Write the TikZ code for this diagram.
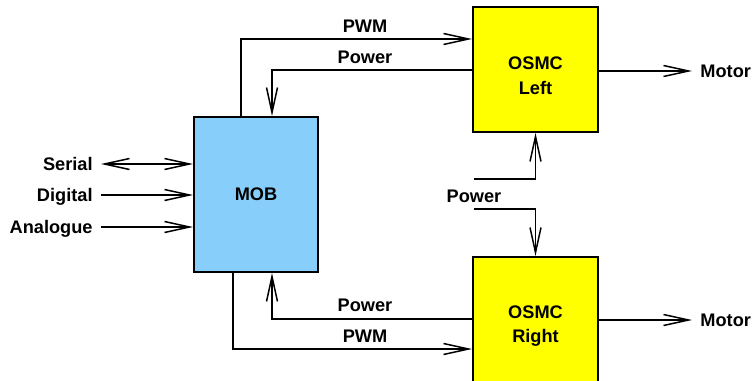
\documentclass[tikz,border=0pt]{standalone}
\usepackage{fontspec}
\setmainfont{Liberation Sans}
\usetikzlibrary{arrows.meta}

\begin{document}
\begin{tikzpicture}[x=0.5pt, y=-0.5pt,
    >={Straight Barb[length=12.5pt, width=5.5pt]},
    sig/.style={line width=0.75pt, ->},
    block/.style={draw, line width=1pt, minimum width=62.5pt, minimum height=62.5pt, inner sep=0pt,
        font=\fontsize{9.1}{10.9}\selectfont\bfseries},
    osmcText/.style={font=\fontsize{9.1}{12.25}\selectfont\bfseries, align=center, yshift=-3pt},
    lbl/.style={font=\fontsize{9.1}{10.9}\selectfont\bfseries, text height=6.5pt, text depth=0pt, inner sep=4pt}]

    \definecolor{mobColour}{HTML}{87CEFA}
    \definecolor{osmcColour}{HTML}{FFFF00}

    \useasboundingbox (0,0) rectangle (753,380);

    % Draw the blocks
    \node[block, fill=mobColour, minimum width=62pt, minimum height=77.5pt] (mob) at (256,194.5) {MOB};
    \node[block, fill=osmcColour, label={[osmcText]center:{OSMC\\Left}}] (left) at (535.5,69.5) {};
    \node[block, fill=osmcColour, minimum height=66pt, label={[osmcText, yshift=1.5pt]center:{OSMC\\Right}}] (right) at (535.5,323) {};

    % Inputs of the MOB
    \node[lbl, anchor=east] (serial) at (101,164) {Serial};
    \node[lbl, anchor=east] (digital) at (101,195) {Digital};
    \node[lbl, anchor=east] (analogue) at (101,227) {Analogue};
    \draw[sig, <->] (serial.east) -- (mob.west |- serial.east);
    \draw[sig] (digital.east) -- (mob.west |- digital.east);
    \draw[sig] (analogue.east) -- (mob.west |- analogue.east);

    % Links to the left OSMC
    \coordinate (pwmTop) at (241,39);
    \coordinate (powerTop) at (272,70);
    \draw[sig] (mob.north -| pwmTop) -- (pwmTop) -- (left.west |- pwmTop);
    \draw[sig] (left.west |- powerTop) -- (powerTop) -- (mob.north -| powerTop);
    \node[lbl] (pwmTopLbl) at (365,26) {PWM};
    \node[lbl] (powerTopLbl) at (365,57) {Power};

    % Links to the right OSMC
    \coordinate (pwmBot) at (233,349);
    \coordinate (powerBot) at (272,319);
    \draw[sig] (mob.south -| pwmBot) -- (pwmBot) -- (right.west |- pwmBot);
    \draw[sig] (right.west |- powerBot) -- (powerBot) -- (mob.south -| powerBot);
    \node[lbl] (powerBotLbl) at (365,305) {Power};
    \node[lbl] (pwmBotLbl) at (365,335.5) {PWM};

    % Power supply of both OSMCs
    \node[lbl] (powerIn) at (474,196) {Power};
    \coordinate (powerInA) at (474,179);
    \coordinate (powerInB) at (474,209);
    \draw[sig] (powerInA) -| (left.south);
    \draw[sig] (powerInB) -| (right.north);

    % Motor outputs
    \node[lbl, anchor=west] (motorLeft) at (692,71) {Motor};
    \node[lbl, anchor=west] (motorRight) at (692,320) {Motor};
    \draw[sig] (left.east |- motorLeft) -- (motorLeft);
    \draw[sig] (right.east |- motorRight) -- (motorRight);

\end{tikzpicture}
\end{document}
